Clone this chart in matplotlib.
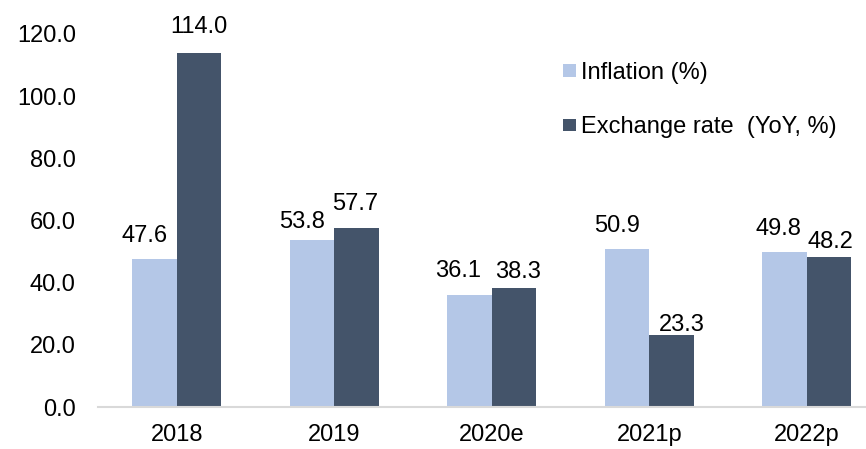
import numpy as np
import matplotlib.pyplot as plt

plt.rcParams['font.family'] = ['Liberation Sans', 'DejaVu Sans']

years = ['2018', '2019', '2020e', '2021p', '2022p']
inflation = [47.6, 53.8, 36.1, 50.9, 49.8]
exchange = [114.0, 57.7, 38.3, 23.3, 48.2]

c_inf = '#b4c7e7'
c_exc = '#44546a'
fs = 17

# label nudges (px) as placed in the original: dx from bar centre, gap above bar top
dx_inf = [-10, -10, -11, -10, -6]
dx_exc = [0, -1, 4, 10, 1]
gap_inf = [17, 12, 18, 17, 17]
gap_exc = [20, 18, 10, 4, 9]

fig = plt.figure(figsize=(8.66, 4.49), dpi=100)
# axis line runs off the right edge of the picture
ax = fig.add_axes([98/866, 42/449, 768/866, 373/449])

x = np.arange(len(years))
w = 0.283
b1 = ax.bar(x - w/2, inflation, w, color=c_inf, label='Inflation (%)')
b2 = ax.bar(x + w/2, exchange, w, color=c_exc, label='Exchange rate  (YoY, %)')

for bars, vals, dxs, gaps in [(b1, inflation, dx_inf, gap_inf),
                              (b2, exchange, dx_exc, gap_exc)]:
    for r, v, dx, g in zip(bars, vals, dxs, gaps):
        ax.annotate(f'{v:.1f}', (r.get_x() + r.get_width()/2, v),
                    xytext=(dx * 0.72, g * 0.72), textcoords='offset points',
                    ha='center', va='baseline', fontsize=fs)

ax.set_xlim(-0.5, -0.5 + 768/157.5)
ax.set_ylim(0, 120)
ax.set_yticks(np.arange(0, 121, 20))
ax.set_yticklabels([f'{t:.1f}' for t in np.arange(0, 121, 20)], fontsize=fs)
ax.set_xticks(x)
ax.set_xticklabels(years, fontsize=fs)
ax.tick_params(length=0)
ax.tick_params(axis='x', pad=12)
ax.tick_params(axis='y', pad=16)
for s in ['top', 'right', 'left']:
    ax.spines[s].set_visible(False)
ax.spines['bottom'].set_color('#d9d9d9')
ax.spines['bottom'].set_linewidth(1.5)

ax.legend(loc='upper left', bbox_to_anchor=(563/866, 1 - 62/449),
          bbox_transform=fig.transFigure, frameon=False, fontsize=fs,
          borderpad=0, borderaxespad=0, handlelength=0.55, handleheight=0.45,
          handletextpad=0.2, labelspacing=1.37)

fig.savefig('out.png', dpi=100)
